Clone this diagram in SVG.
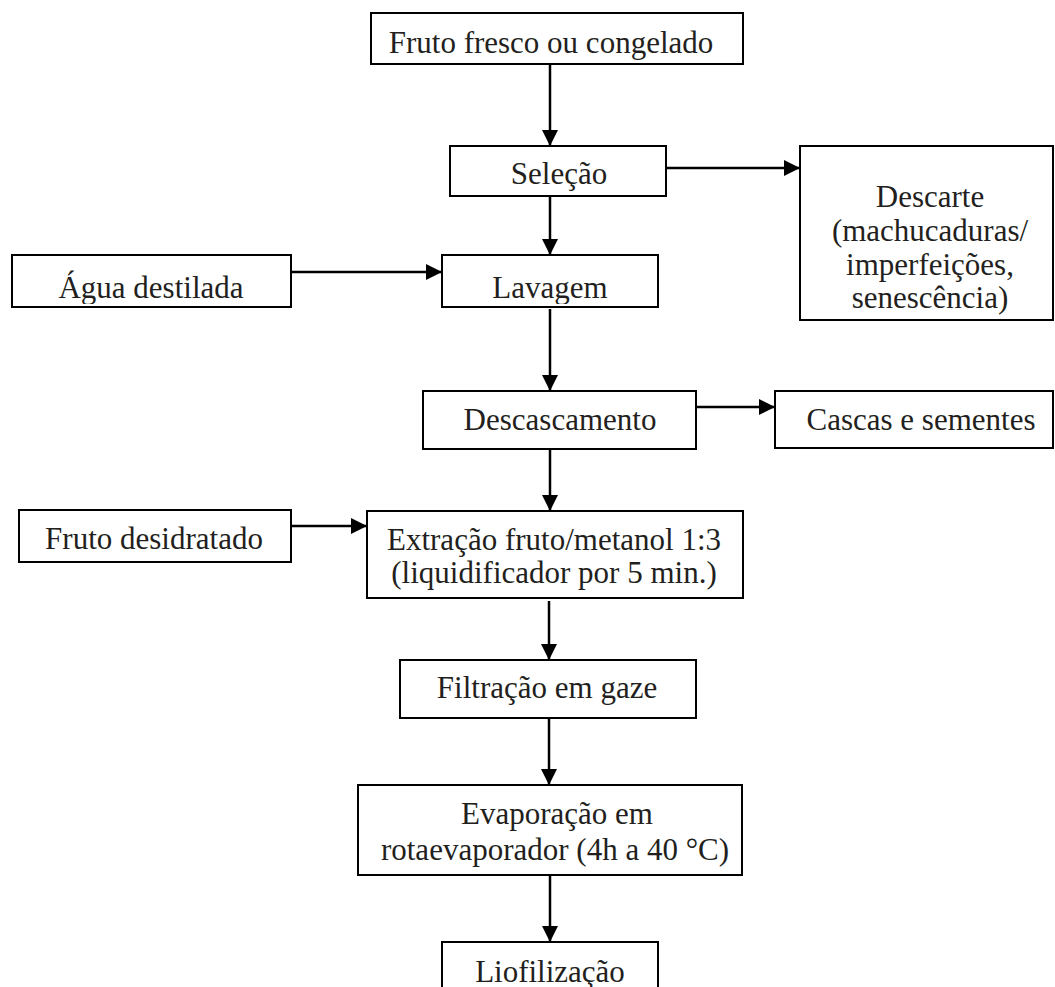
<svg xmlns="http://www.w3.org/2000/svg" width="1055" height="987" viewBox="0 0 1055 987">
<style>
.box{fill:#fff;stroke:#000;stroke-width:2}
.t{font-family:"Liberation Serif","Times New Roman",serif;font-size:31px;fill:#231f20;text-anchor:middle}
.c{stroke:#000;stroke-width:2.5;fill:none;marker-end:url(#ah)}
</style>
<defs>
<marker id="ah" markerUnits="userSpaceOnUse" markerWidth="16" markerHeight="16" refX="16" refY="8" orient="auto">
<path d="M0,0 L16,8 L0,16 z" fill="#000"/>
</marker>
<clipPath id="k1"><rect x="371" y="13" width="372" height="48"/></clipPath>
<clipPath id="k4"><rect x="12" y="255" width="279" height="49"/></clipPath>
<clipPath id="k5"><rect x="442" y="255" width="216" height="49"/></clipPath>
<clipPath id="k9"><rect x="367" y="511" width="376" height="84"/></clipPath>
<clipPath id="k12"><rect x="442" y="942" width="216" height="45"/></clipPath>
</defs>
<rect width="1055" height="987" fill="#fff"/>
<g id="connectors">
<line class="c" x1="550" y1="64" x2="550" y2="146"/>
<line class="c" x1="666" y1="168" x2="800" y2="168"/>
<line class="c" x1="550" y1="196" x2="550" y2="255"/>
<line class="c" x1="291" y1="272" x2="442" y2="272"/>
<line class="c" x1="550" y1="309" x2="550" y2="391"/>
<line class="c" x1="696" y1="407" x2="775" y2="407"/>
<line class="c" x1="550" y1="449" x2="550" y2="511"/>
<line class="c" x1="291" y1="526" x2="367" y2="526"/>
<line class="c" x1="549" y1="601" x2="549" y2="660"/>
<line class="c" x1="549" y1="718" x2="549" y2="785"/>
<line class="c" x1="550" y1="875" x2="550" y2="942"/>
</g>
<g id="n1"><rect class="box" x="371" y="13" width="372" height="51"/><text class="t" x="551" y="53" clip-path="url(#k1)">Fruto fresco ou congelado</text></g>
<g id="n2"><rect class="box" x="450" y="146" width="216" height="50"/><text class="t" x="559" y="184">Seleção</text></g>
<g id="n3"><rect class="box" x="800" y="146" width="253" height="174"/>
<text class="t" x="930" y="207">Descarte</text>
<text class="t" x="930" y="241">(machucaduras/</text>
<text class="t" x="930" y="275">imperfeições,</text>
<text class="t" x="930" y="308">senescência)</text></g>
<g id="n4"><rect class="box" x="12" y="255" width="279" height="52"/><text class="t" x="151" y="298" clip-path="url(#k4)">Água destilada</text></g>
<g id="n5"><rect class="box" x="442" y="255" width="216" height="52"/><text class="t" x="550" y="298" clip-path="url(#k5)">Lavagem</text></g>
<g id="n6"><rect class="box" x="423" y="391" width="273" height="58"/><text class="t" x="560" y="430">Descascamento</text></g>
<g id="n7"><rect class="box" x="775" y="391" width="278" height="57"/><text class="t" x="921" y="430">Cascas e sementes</text></g>
<g id="n8"><rect class="box" x="19" y="510" width="272" height="52"/><text class="t" x="154" y="549">Fruto desidratado</text></g>
<g id="n9"><rect class="box" x="367" y="511" width="376" height="87"/>
<text class="t" x="554" y="550">Extração fruto/metanol 1:3</text>
<text class="t" x="554" y="583" clip-path="url(#k9)">(liquidificador por 5 min.)</text></g>
<g id="n10"><rect class="box" x="400" y="660" width="296" height="58"/><text class="t" x="547" y="698">Filtração em gaze</text></g>
<g id="n11"><rect class="box" x="358" y="785" width="384" height="90"/>
<text class="t" x="557" y="824">Evaporação em</text>
<text class="t" x="555" y="860">rotaevaporador (4h a 40 °C)</text></g>
<g id="n12"><rect class="box" x="442" y="942" width="216" height="60"/><text class="t" x="550" y="982" clip-path="url(#k12)">Liofilização</text></g>
</svg>
